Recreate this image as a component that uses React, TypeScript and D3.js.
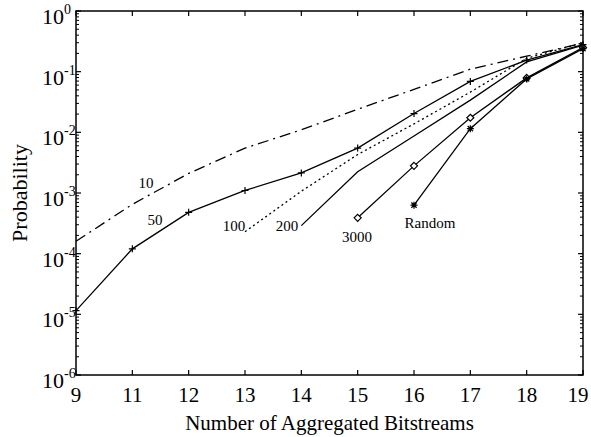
import { scalePoint, scaleLog, line, range } from "d3"

// x categories as printed on the axis (note: no 10)
const categories = ["9", "11", "12", "13", "14", "15", "16", "17", "18", "19"]

// probabilities per category, null where a curve has no point
const p10 = [1.6e-4, 6.5e-4, 2.1e-3, 5.5e-3, 1.1e-2, 2.4e-2, 5.1e-2, 0.11, 0.18, 0.295]
const p50 = [1.15e-5, 1.2e-4, 4.8e-4, 1.1e-3, 2.14e-3, 5.5e-3, 2.04e-2, 6.9e-2, 0.155, 0.28]
const p100 = [null, null, null, 2.3e-4, 1.07e-3, 4.3e-3, 1.38e-2, 4.6e-2, 0.166, 0.3]
const p200 = [null, null, null, null, 2.9e-4, 2.24e-3, 8.7e-3, 3.4e-2, 0.145, 0.275]
const p3000 = [null, null, null, null, null, 3.9e-4, 2.8e-3, 1.74e-2, 7.9e-2, 0.25]
const pRandom = [null, null, null, null, null, null, 6.3e-4, 1.15e-2, 7.6e-2, 0.24]

const yExponents = [0, -1, -2, -3, -4, -5, -6]

const series = [
    { name: "10", values: p10, dash: "11,5,2,5", marker: "none" },
    { name: "50", values: p50, dash: null, marker: "plus" },
    { name: "100", values: p100, dash: "2,3", marker: "none" },
    { name: "200", values: p200, dash: null, marker: "none" },
    { name: "3000", values: p3000, dash: null, marker: "diamond" },
    { name: "Random", values: pRandom, dash: null, marker: "star" },
]

// curve labels (pixel placement: centre x, baseline y)
const labels = [
    { text: "10", x: 146, y: 188 },
    { text: "50", x: 155, y: 225 },
    { text: "100", x: 234, y: 231 },
    { text: "200", x: 287, y: 231 },
    { text: "3000", x: 357, y: 242 },
    { text: "Random", x: 430, y: 228 },
]

const W = 591
const H = 437
const left = 76
const right = 583
const top = 11
const bottom = 375
const font = "'Liberation Serif', 'Times New Roman', serif"

function Marker({ type, x, y }: { type: string; x: number; y: number }) {
    const s = 3.5
    if (type === "plus") {
        return <path d={`M${x - s},${y}H${x + s}M${x},${y - s}V${y + s}`} stroke="#000" strokeWidth={1.2} />
    }
    if (type === "diamond") {
        return <path d={`M${x},${y - s}L${x + s},${y}L${x},${y + s}L${x - s},${y}Z`} stroke="#000" strokeWidth={1.2} fill="white" />
    }
    if (type === "star") {
        const d = s * 0.75
        return <path d={`M${x - s},${y}H${x + s}M${x},${y - s}V${y + s}M${x - d},${y - d}L${x + d},${y + d}M${x - d},${y + d}L${x + d},${y - d}`} stroke="#000" strokeWidth={1.2} />
    }
    return null
}

export default function App() {
    const x = scalePoint<string>().domain(categories).range([left, right]).padding(0)
    const y = scaleLog().domain([1e-6, 1]).range([bottom, top])

    const lineGen = line<[string, number | null]>()
        .defined((d) => d[1] != null)
        .x((d) => x(d[0]) as number)
        .y((d) => y(d[1] as number))

    const minor: number[] = []
    for (const e of range(-6, 0)) {
        for (const m of range(2, 10)) minor.push(m * Math.pow(10, e))
    }

    return (
        <svg width={W} height={H} style={{ position: "absolute", left: 0, top: 0, background: "white" }} fontFamily={font}>
            <rect width={W} height={H} fill="white" />

            {/* series */}
            {series.map((s) => {
                const pts = categories.map((c, i) => [c, s.values[i]] as [string, number | null])
                return (
                    <g key={s.name}>
                        <path d={lineGen(pts) ?? ""} fill="none" stroke="#000" strokeWidth={1.3}
                            strokeDasharray={s.dash ?? undefined} />
                        {pts.filter((p) => p[1] != null).map((p) => (
                            <Marker key={p[0]} type={s.marker} x={x(p[0]) as number} y={y(p[1] as number)} />
                        ))}
                    </g>
                )
            })}

            {/* frame */}
            <rect x={left} y={top} width={right - left} height={bottom - top} fill="none" stroke="#000" strokeWidth={1.5} />

            {/* y ticks */}
            {yExponents.map((e) => {
                const yy = y(Math.pow(10, e))
                return (
                    <g key={e}>
                        <line x1={left} x2={left + 5} y1={yy} y2={yy} stroke="#000" strokeWidth={1.2} />
                        <line x1={right} x2={right - 5} y1={yy} y2={yy} stroke="#000" strokeWidth={1.2} />
                        <text x={64} y={yy + 13} fontSize={22} textAnchor="end">10</text>
                        <text x={64} y={yy + 3} fontSize={14} textAnchor="start">{e}</text>
                    </g>
                )
            })}
            {minor.map((v, i) => (
                <g key={i}>
                    <line x1={left} x2={left + 3} y1={y(v)} y2={y(v)} stroke="#000" strokeWidth={1} />
                    <line x1={right} x2={right - 3} y1={y(v)} y2={y(v)} stroke="#000" strokeWidth={1} />
                </g>
            ))}

            {/* x ticks */}
            {categories.map((c) => {
                const xx = x(c) as number
                return (
                    <g key={c}>
                        <line x1={xx} x2={xx} y1={bottom} y2={bottom - 5} stroke="#000" strokeWidth={1.2} />
                        <line x1={xx} x2={xx} y1={top} y2={top + 5} stroke="#000" strokeWidth={1.2} />
                        <text x={Math.min(xx, W - 13)} y={402} fontSize={21} textAnchor="middle">{c}</text>
                    </g>
                )
            })}

            {/* curve labels */}
            {labels.map((l) => (
                <text key={l.text} x={l.x} y={l.y} fontSize={15} textAnchor="middle">{l.text}</text>
            ))}

            {/* axis titles */}
            <text x={(left + right) / 2} y={430} fontSize={21} textAnchor="middle">Number of Aggregated Bitstreams</text>
            <text transform={`translate(27,${(top + bottom) / 2}) rotate(-90)`} fontSize={22} textAnchor="middle">Probability</text>
        </svg>
    )
}
